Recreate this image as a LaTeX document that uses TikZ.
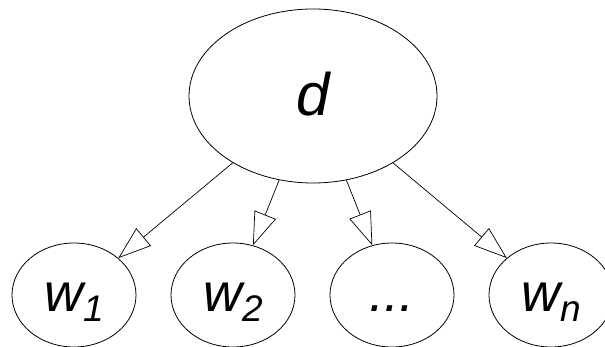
\documentclass[tikz,border=0pt]{standalone}
\usepackage{fontspec}
\setmainfont{Liberation Sans}
\usetikzlibrary{shapes.geometric,arrows.meta}
\newcommand{\wsub}[1]{\raisebox{-10pt}{\fontsize{37}{40}\selectfont #1}}

\begin{document}
\begin{tikzpicture}[x=1pt, y=-1pt,
	var/.style={draw, ellipse, line width=0.8pt, inner sep=0pt},
	word/.style={var, minimum width=124pt, minimum height=104pt, text height=34pt, text depth=0pt, font=\fontsize{54}{60}\selectfont\itshape},
	edge/.style={line width=0.7pt, -{Triangle[open, length=33pt, width=23pt, line width=0.7pt]}}]
	\useasboundingbox (0,0) rectangle (605,347);
	\node[var, minimum width=248pt, minimum height=174pt, text height=40pt, text depth=0pt, font=\fontsize{60}{66}\selectfont\itshape] (d) at (313,96) {d};
	\node[word] (w1) at (74,295) {w\wsub{1}};
	\node[word] (w2) at (233,295) {w\wsub{2}};
	\node[word] (dots) at (392,295) {...};
	\node[word] (wn) at (551,295) {w\wsub{n}};
	\foreach \w in {w1,w2,dots,wn}
		\draw[edge] (d) -- (\w);
\end{tikzpicture}
\end{document}
